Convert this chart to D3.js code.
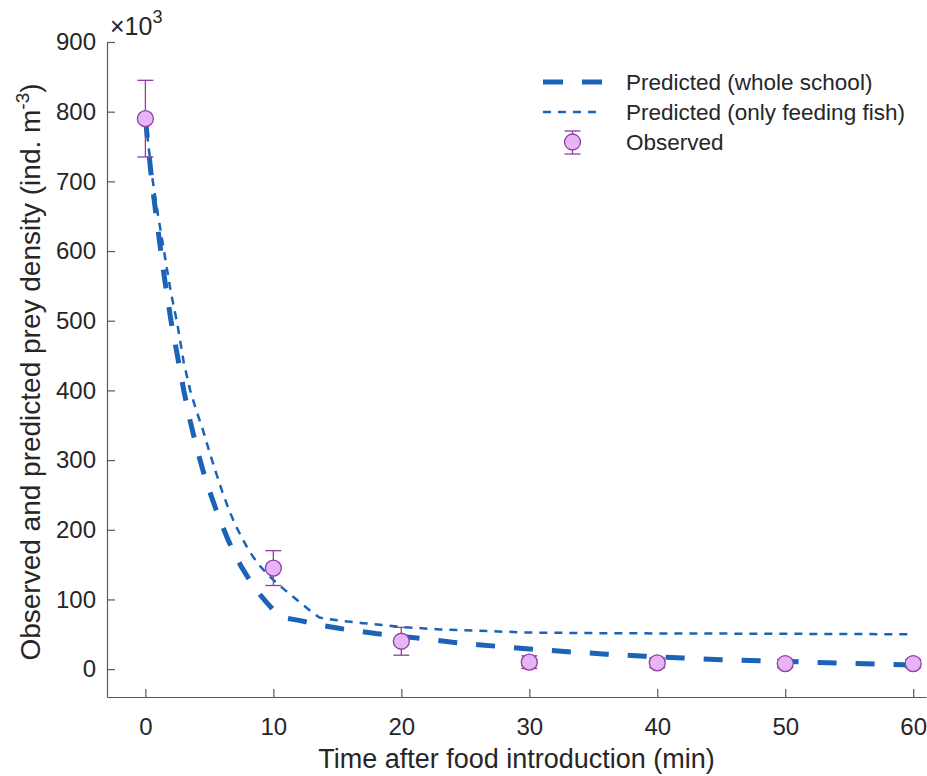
<!DOCTYPE html>
<html>
<head>
<meta charset="utf-8">
<script src="https://cdn.jsdelivr.net/npm/d3@7"></script>
<style>
  body { margin: 0; background: #fff; }
  text { font-family: "Liberation Sans", Arial, Helvetica, sans-serif; }
</style>
</head>
<body>
<svg id="chart" width="927" height="776"></svg>
<script>
// Observed prey density (x10^3 ind. m^-3) with error bars
const obsTime = [0, 10, 20, 30, 40, 50, 60];
const obsDensity = [790, 145, 40, 10, 9, 8, 8];
const obsError = [55, 25, 20, 9, 7, 6, 6];

// Model prediction: whole school feeding
const wholeTime = [0, 0.5, 1, 1.5, 2, 2.5, 3, 3.5, 4, 4.5, 5, 5.5, 6, 6.5, 7, 7.5, 8, 8.5, 9, 9.5, 10, 10.5,
  11, 12, 13, 14, 15, 16, 18, 20, 22, 24, 26, 28, 30, 33, 36, 39, 42, 45, 48, 51, 54, 57, 60];
const wholeDensity = [790, 700, 628, 560, 500, 450, 400, 356, 318, 285, 256, 230, 206, 184, 164, 147, 132, 118, 106, 95, 85, 77,
  73, 70, 66, 62, 59, 56, 51, 47, 43, 38.5, 35, 32, 29, 25, 21.5, 18.5, 16, 13.5, 12, 10.5, 8.7, 7.3, 6];

// Model prediction: only the feeding fish
const feedTime = [0, 0.5, 1, 1.5, 2, 2.5, 3, 3.5, 4, 4.5, 5, 5.5, 6, 6.5, 7, 7.5, 8, 8.5, 9, 9.5, 10, 11, 12, 13, 13.6,
  15, 17, 20, 23, 26, 30, 36, 45, 53, 60];
const feedDensity = [790, 710, 650, 595, 540, 495, 440, 400, 370, 343, 312, 283, 255, 230, 208, 190, 173, 159, 147, 137, 128, 112, 97, 82, 74,
  70, 66, 60.5, 57, 55, 52.5, 51.5, 51, 50.5, 50];

const xTicks = [0, 10, 20, 30, 40, 50, 60];
const yTicks = [0, 100, 200, 300, 400, 500, 600, 700, 800, 900];
const legendLabels = ["Predicted (whole school)", "Predicted (only feeding fish)", "Observed"];

const svg = d3.select("#chart");
const plotL = 107, plotR = 926, plotT = 42, plotB = 697;

const x = d3.scaleLinear().domain([-3, 61]).range([plotL, plotR]);
const y = d3.scaleLinear().domain([-40, 900]).range([plotB, plotT]);

const axisColor = "#5a5a5a";
const textColor = "#262626";
const lineColor = "#1a63b8";
const markerFill = "#e6b4f7";
const markerStroke = "#8e3fa0";

// Axes with inward ticks
const xAxis = svg.append("g")
  .attr("transform", `translate(0,${plotB})`)
  .call(d3.axisBottom(x).tickValues(xTicks).tickSizeInner(-8).tickSizeOuter(0).tickPadding(21));
const yAxis = svg.append("g")
  .attr("transform", `translate(${plotL},0)`)
  .call(d3.axisLeft(y).tickValues(yTicks).tickSizeInner(-8).tickSizeOuter(0).tickPadding(11));

[xAxis, yAxis].forEach(g => {
  g.select(".domain").attr("stroke", axisColor).attr("stroke-width", 1.2);
  g.selectAll(".tick line").attr("stroke", axisColor).attr("stroke-width", 1.2);
  g.selectAll(".tick text").attr("fill", textColor).style("font-size", "24px");
});

// Exponent label
const expo = svg.append("text").attr("x", 110).attr("y", 35).attr("fill", textColor).style("font-size", "25px");
expo.append("tspan").text("×10");
expo.append("tspan").attr("dy", -12).style("font-size", "18px").text("3");

// Axis titles
svg.append("text")
  .attr("x", (plotL + plotR) / 2).attr("y", 768)
  .attr("text-anchor", "middle").attr("fill", textColor).style("font-size", "27px")
  .text("Time after food introduction (min)");

const yl = svg.append("text")
  .attr("transform", `translate(40,372) rotate(-90)`)
  .attr("text-anchor", "middle").attr("fill", textColor).style("font-size", "28px");
yl.append("tspan").text("Observed and predicted prey density (ind. m");
yl.append("tspan").attr("dy", -11).style("font-size", "19px").text("-3");
yl.append("tspan").attr("dy", 11).text(")");

// Prediction lines
const line = d3.line().x(d => x(d[0])).y(d => y(d[1]));
const wholeData = wholeTime.map((t, i) => [t, wholeDensity[i]]);
const feedData = feedTime.map((t, i) => [t, feedDensity[i]]);

svg.append("path").datum(wholeData).attr("d", line)
  .attr("fill", "none").attr("stroke", lineColor).attr("stroke-width", 5)
  .attr("stroke-dasharray", "19,19");
svg.append("path").datum(feedData).attr("d", line)
  .attr("fill", "none").attr("stroke", lineColor).attr("stroke-width", 2.5)
  .attr("stroke-dasharray", "8,7");

// Observed points with error bars
const obs = obsTime.map((t, i) => ({ t, v: obsDensity[i], e: obsError[i] }));
const pts = svg.append("g").selectAll("g").data(obs).join("g");
pts.append("line")
  .attr("x1", d => x(d.t)).attr("x2", d => x(d.t))
  .attr("y1", d => y(d.v - d.e)).attr("y2", d => y(d.v + d.e))
  .attr("stroke", markerStroke).attr("stroke-width", 1.3);
[-1, 1].forEach(s => {
  pts.append("line")
    .attr("x1", d => x(d.t) - 8).attr("x2", d => x(d.t) + 8)
    .attr("y1", d => y(d.v + s * d.e)).attr("y2", d => y(d.v + s * d.e))
    .attr("stroke", markerStroke).attr("stroke-width", 1.3);
});
pts.append("circle")
  .attr("cx", d => x(d.t)).attr("cy", d => y(d.v)).attr("r", 8)
  .attr("fill", markerFill).attr("stroke", markerStroke).attr("stroke-width", 1.3);

// Legend
const lg = svg.append("g");
const lx0 = 543, lx1 = 602, ltx = 626, ly0 = 82, ldy = 30;
lg.append("line").attr("x1", lx0).attr("x2", lx1).attr("y1", ly0).attr("y2", ly0)
  .attr("stroke", lineColor).attr("stroke-width", 5).attr("stroke-dasharray", "20,19");
lg.append("line").attr("x1", lx0).attr("x2", lx1).attr("y1", ly0 + ldy).attr("y2", ly0 + ldy)
  .attr("stroke", lineColor).attr("stroke-width", 2.5).attr("stroke-dasharray", "8,7");
const mx = (lx0 + lx1) / 2, my = ly0 + 2 * ldy;
lg.append("line").attr("x1", mx).attr("x2", mx).attr("y1", my - 11).attr("y2", my + 12)
  .attr("stroke", markerStroke).attr("stroke-width", 1.3);
[-11, 12].forEach(o => lg.append("line").attr("x1", mx - 8).attr("x2", mx + 8)
  .attr("y1", my + o).attr("y2", my + o).attr("stroke", markerStroke).attr("stroke-width", 1.3));
lg.append("circle").attr("cx", mx).attr("cy", my).attr("r", 8)
  .attr("fill", markerFill).attr("stroke", markerStroke).attr("stroke-width", 1.3);
legendLabels.forEach((s, i) => {
  lg.append("text").attr("x", ltx).attr("y", ly0 + i * ldy + 8)
    .attr("fill", textColor).style("font-size", "22.5px").text(s);
});
</script>
</body>
</html>
